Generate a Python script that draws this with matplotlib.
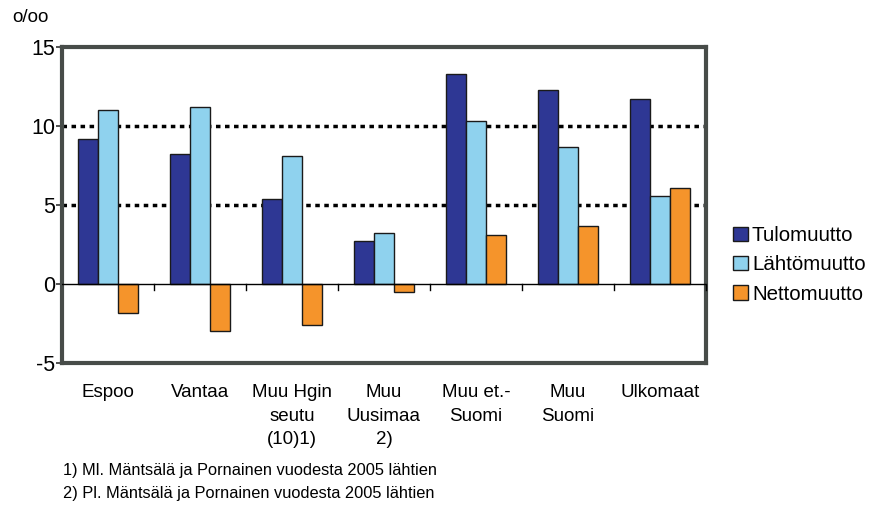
import numpy as np
import matplotlib.pyplot as plt
from matplotlib.patches import Patch

# aluekohtainen muuttoliike, promillea
alueet = ['Espoo', 'Vantaa', 'Muu Hgin\nseutu\n(10)1)', 'Muu\nUusimaa\n2)',
          'Muu et.-\nSuomi', 'Muu\nSuomi', 'Ulkomaat']
tulomuutto = [9.2, 8.2, 5.4, 2.75, 13.3, 12.3, 11.7]
lahtomuutto = [11.0, 11.2, 8.1, 3.25, 10.3, 8.7, 5.6]
nettomuutto = [-1.85, -3.0, -2.6, -0.5, 3.1, 3.65, 6.1]
sarjat = ['Tulomuutto', 'Lähtömuutto', 'Nettomuutto']
varit = ['#2e3794', '#8fd2ee', '#f5942b']
alaviitteet = ['1) Ml. Mäntsälä ja Pornainen vuodesta 2005 lähtien',
               '2) Pl. Mäntsälä ja Pornainen vuodesta 2005 lähtien']

plt.rcParams['font.family'] = ['Liberation Sans', 'DejaVu Sans']
plt.rcParams['axes.unicode_minus'] = False

fig = plt.figure(figsize=(8.78, 5.09), dpi=100)
ax = fig.add_axes([62 / 878, 1 - 363 / 509, 644 / 878, 316 / 509])

x = np.arange(len(alueet))
w = 0.22
for i, (vals, c) in enumerate(zip([tulomuutto, lahtomuutto, nettomuutto], varit)):
    ax.bar(x + (i - 1) * w, vals, w, color=c, edgecolor='#1a1a1a', linewidth=1.0, zorder=3)

ax.set_xlim(-0.5, len(alueet) - 0.5)
ax.set_ylim(-5, 15)
for yv in [5, 10]:
    ax.axhline(yv, color='black', linestyle=(0, (1.3, 1.3)), linewidth=2.5, zorder=1)
ax.axhline(0, color='black', linewidth=1.0, zorder=4)

# kategoriarajojen pienet merkit nollaviivalla
for b in np.arange(0.5, len(alueet), 1.0):
    ax.plot([b, b], [0, -0.35], color='black', linewidth=1.0, zorder=4, clip_on=False)

ax.set_xticks([])
ax.set_yticks([-5, 0, 5, 10, 15])
ax.tick_params(axis='y', direction='out', length=4, width=1.2, color='#333333',
               labelsize=15.5, pad=1)
for s in ax.spines.values():
    s.set_color('#474c49')
    s.set_linewidth(3)

for xi, lab in zip(x, alueet):
    ax.text(xi, -6.35, lab, ha='center', va='top', fontsize=13.5, linespacing=1.5)

fig.text(12 / 878, 1 - 17 / 509, 'o/oo', fontsize=13.5, va='center')
for k, t in enumerate(alaviitteet):
    fig.text(63 / 878, 1 - (470 + 23.5 * k) / 509, t, fontsize=11.8, va='center')

handles = [Patch(facecolor=c, edgecolor='#1a1a1a', linewidth=1.0) for c in varit]
fig.legend(handles, sarjat, loc='center left', bbox_to_anchor=(719 / 878, 1 - 265 / 509),
           frameon=False, fontsize=14.8, handlelength=0.7, handleheight=0.7,
           handletextpad=0.2, labelspacing=0.5, borderpad=0.2)

fig.savefig('out.png', dpi=100)
